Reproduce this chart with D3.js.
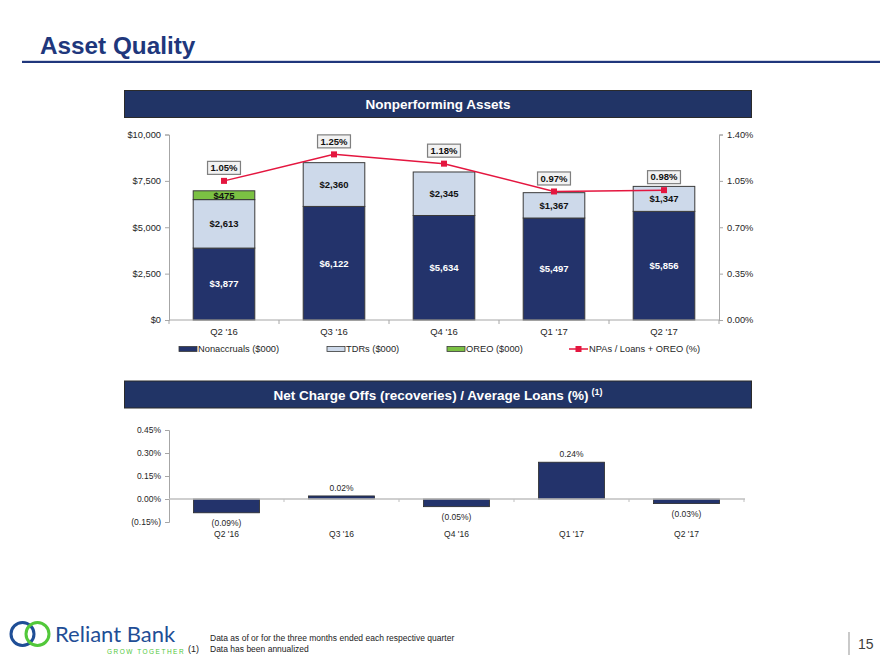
<!DOCTYPE html>
<html>
<head>
<meta charset="utf-8">
<script src="https://cdn.jsdelivr.net/npm/d3@7"></script>
<style>
  html, body { margin: 0; padding: 0; background: #fff; }
  svg { display: block; font-family: "Liberation Sans", Arial, sans-serif; }
</style>
</head>
<body>
<svg id="chart" width="880" height="660"></svg>
<script>
// ---------------- DATA ----------------
const categories = ["Q2 '16", "Q3 '16", "Q4 '16", "Q1 '17", "Q2 '17"];
const nonaccruals = [3877, 6122, 5634, 5497, 5856];
const tdrs = [2613, 2360, 2345, 1367, 1347];
const oreo = [475, 0, 0, 0, 0];
const npaRatio = [1.05, 1.25, 1.18, 0.97, 0.98];
const leftTicks = [0, 2500, 5000, 7500, 10000];
const rightTicks = [0, 0.35, 0.70, 1.05, 1.40];
const ncoRatio = [-0.09, 0.02, -0.05, 0.24, -0.03];
const ncoTicks = [-0.15, 0, 0.15, 0.30, 0.45];
const legendLabels = ["Nonaccruals ($000)", "TDRs ($000)", "OREO ($000)", "NPAs / Loans + OREO (%)"];

// ---------------- STYLE ----------------
const NAVY = "#23336b";
const TITLE_NAVY = "#20377c";
const LIGHT = "#cdd9ea";
const GREEN = "#7bc143";
const RED = "#e4163f";
const AXIS = "#a6a6a6";
const TXT = "#262626";

const svg = d3.select("#chart");

// Title
svg.append("text").attr("x", 40).attr("y", 53.5)
  .attr("font-size", 24.3).attr("font-weight", "bold").attr("fill", TITLE_NAVY)
  .text("Asset Quality");
svg.append("rect").attr("x", 22).attr("y", 60.8).attr("width", 858).attr("height", 2.2).attr("fill", TITLE_NAVY);

// Header boxes
function header(y, textParts) {
  svg.append("rect").attr("x", 124.5).attr("y", y).attr("width", 627).attr("height", 27)
    .attr("fill", "#213466").attr("stroke", "#2b2b2b").attr("stroke-width", 1);
  const t = svg.append("text").attr("x", 438).attr("y", y + 18.5).attr("text-anchor", "middle")
    .attr("fill", "#fff").attr("font-weight", "bold").attr("font-size", 13.5);
  t.append("tspan").text(textParts[0]);
  if (textParts[1]) {
    t.append("tspan").attr("font-size", 9).attr("dy", -5).attr("dx", 3).text(textParts[1]);
  }
}
header(90.5, ["Nonperforming Assets"]);
header(381, ["Net Charge Offs (recoveries) / Average Loans (%)", "(1)"]);

// ---------------- CHART 1 ----------------
const x1 = d3.scaleBand().domain(categories).range([169, 719]).paddingInner(0.44).paddingOuter(0.22);
const y1 = d3.scaleLinear().domain([0, 10000]).range([320, 134.5]);
const y1r = d3.scaleLinear().domain([0, 1.4]).range([320, 134.5]);

const stackData = categories.map((c, i) => ({ cat: c, non: nonaccruals[i], tdr: tdrs[i], oreo: oreo[i] }));
const series = d3.stack().keys(["non", "tdr", "oreo"])(stackData);
const fills = { non: NAVY, tdr: LIGHT, oreo: GREEN };

const g1 = svg.append("g");
series.forEach(s => {
  g1.selectAll(null).data(s.filter(d => d[1] - d[0] > 0)).enter().append("rect")
    .attr("x", d => x1(d.data.cat))
    .attr("y", d => y1(d[1]))
    .attr("width", x1.bandwidth())
    .attr("height", d => y1(d[0]) - y1(d[1]))
    .attr("fill", fills[s.key])
    .attr("stroke", "#3a3a3a").attr("stroke-width", 1);
});
series.forEach(s => {
  g1.selectAll(null).data(s.filter(d => d[1] - d[0] > 0)).enter().append("text")
    .attr("x", d => x1(d.data.cat) + x1.bandwidth() / 2)
    .attr("y", d => (y1(d[0]) + y1(d[1])) / 2)
    .attr("dy", "0.35em")
    .attr("text-anchor", "middle").attr("font-size", 9.5).attr("font-weight", "bold")
    .attr("fill", s.key === "non" ? "#fff" : "#111")
    .text(d => "$" + d3.format(",")(d[1] - d[0]));
});

// Axes chart 1
const axL = d3.axisLeft(y1).tickValues(leftTicks).tickSize(4).tickFormat(d => "$" + d3.format(",")(d));
const gL = svg.append("g").attr("transform", "translate(169,0)").call(axL);
const axR = d3.axisRight(y1r).tickValues(rightTicks).tickSize(4).tickFormat(d => d3.format(".2f")(d) + "%");
const gR = svg.append("g").attr("transform", "translate(719,0)").call(axR);
[gL, gR].forEach(g => {
  g.selectAll("path, line").attr("stroke", AXIS);
  g.selectAll("text").attr("font-size", 9.3).attr("fill", TXT).attr("font-family", "Liberation Sans, Arial, sans-serif");
});
gL.selectAll("text").attr("x", -8);
gR.selectAll("text").attr("x", 8);

// bottom axis chart 1
const gB = svg.append("g");
gB.append("line").attr("x1", 169).attr("x2", 719).attr("y1", 320).attr("y2", 320).attr("stroke", AXIS);
const bounds1 = categories.map(c => x1(c) - x1.step() * 0.22).concat([719]);
gB.selectAll(null).data(bounds1).enter().append("line")
  .attr("x1", d => d).attr("x2", d => d).attr("y1", 320).attr("y2", 324).attr("stroke", AXIS);
gB.selectAll(null).data(categories).enter().append("text")
  .attr("x", d => x1(d) + x1.bandwidth() / 2).attr("y", 334.5)
  .attr("text-anchor", "middle").attr("font-size", 9.5).attr("fill", TXT).text(d => d);

// Line
const line = d3.line().x((d, i) => x1(categories[i]) + x1.bandwidth() / 2).y(d => y1r(d));
svg.append("path").datum(npaRatio).attr("d", line).attr("fill", "none").attr("stroke", RED).attr("stroke-width", 1.5);
svg.selectAll(null).data(npaRatio).enter().append("rect")
  .attr("x", (d, i) => x1(categories[i]) + x1.bandwidth() / 2 - 3)
  .attr("y", d => y1r(d) - 3).attr("width", 6).attr("height", 6).attr("fill", RED);

// Percent boxes
const lblG = svg.append("g");
npaRatio.forEach((v, i) => {
  const cx = x1(categories[i]) + x1.bandwidth() / 2;
  const cy = y1r(v) - 13;
  const t = lblG.append("text").attr("x", cx).attr("y", cy).attr("dy", "0.35em")
    .attr("text-anchor", "middle").attr("font-size", 9.5).attr("font-weight", "bold").attr("fill", "#111")
    .text(d3.format(".2f")(v) + "%");
  const w = t.node().getComputedTextLength() + 6;
  lblG.insert("rect", "text").attr("x", cx - w / 2).attr("y", cy - 6.5).attr("width", w).attr("height", 13)
    .attr("fill", "#f2f2f2").attr("stroke", "#7f7f7f").attr("stroke-width", 1.2);
});

// Legend
const legY = 349;
const legX = [179, 327, 447, 569];
const lg = svg.append("g");
[NAVY, LIGHT, GREEN].forEach((c, i) => {
  lg.append("rect").attr("x", legX[i]).attr("y", legY - 2.5).attr("width", 18).attr("height", 5)
    .attr("fill", c).attr("stroke", "#3a3a3a").attr("stroke-width", 0.8);
});
lg.append("line").attr("x1", legX[3]).attr("x2", legX[3] + 19).attr("y1", legY).attr("y2", legY)
  .attr("stroke", RED).attr("stroke-width", 1.5);
lg.append("rect").attr("x", legX[3] + 6.5).attr("y", legY - 3).attr("width", 6).attr("height", 6).attr("fill", RED);
legendLabels.forEach((l, i) => {
  lg.append("text").attr("x", legX[i] + (i === 3 ? 20 : 19)).attr("y", legY).attr("dy", "0.35em")
    .attr("font-size", 9.3).attr("fill", TXT).text(l);
});

// ---------------- CHART 2 ----------------
const x2 = d3.scaleBand().domain(categories).range([169, 744]).paddingInner(0.426).paddingOuter(0.213);
const y2 = d3.scaleLinear().domain([-0.15, 0.45]).range([522, 430]);

const axL2 = d3.axisLeft(y2).tickValues(ncoTicks).tickSize(4)
  .tickFormat(d => d < 0 ? "(" + d3.format(".2f")(-d) + "%)" : d3.format(".2f")(d) + "%");
const gL2 = svg.append("g").attr("transform", "translate(169,0)").call(axL2);
gL2.selectAll("path, line").attr("stroke", AXIS);
gL2.selectAll("text").attr("font-size", 8.5).attr("fill", TXT).attr("x", -8)
  .attr("font-family", "Liberation Sans, Arial, sans-serif");

const g2 = svg.append("g");
g2.selectAll(null).data(ncoRatio).enter().append("rect")
  .attr("x", (d, i) => x2(categories[i]))
  .attr("y", d => y2(Math.max(0, d)))
  .attr("width", x2.bandwidth())
  .attr("height", d => Math.abs(y2(d) - y2(0)))
  .attr("fill", NAVY).attr("stroke", "#2a2a2a").attr("stroke-width", 0.8);

// zero line
g2.append("line").attr("x1", 169).attr("x2", 745).attr("y1", y2(0)).attr("y2", y2(0))
  .attr("stroke", "#bfbfbf").attr("stroke-width", 1.5);
const bounds2 = categories.map(c => x2(c) - x2.step() * 0.213).slice(1).concat([744]);
g2.selectAll(null).data(bounds2).enter().append("line")
  .attr("x1", d => d).attr("x2", d => d).attr("y1", y2(0)).attr("y2", y2(0) + 3).attr("stroke", "#bfbfbf");

g2.selectAll(null).data(ncoRatio).enter().append("text")
  .attr("x", (d, i) => x2(categories[i]) + x2.bandwidth() / 2)
  .attr("y", d => d >= 0 ? y2(d) - 5 : y2(d) + 13)
  .attr("text-anchor", "middle").attr("font-size", 8.5).attr("fill", TXT)
  .text(d => d < 0 ? "(" + d3.format(".2f")(-d) + "%)" : d3.format(".2f")(d) + "%");

g2.selectAll(null).data(categories).enter().append("text")
  .attr("x", d => x2(d) + x2.bandwidth() / 2).attr("y", 536.5)
  .attr("text-anchor", "middle").attr("font-size", 8.5).attr("fill", TXT).text(d => d);

// ---------------- FOOTER ----------------
const ft = svg.append("g");
ft.append("circle").attr("cx", 22.5).attr("cy", 634).attr("r", 11.5).attr("fill", "none").attr("stroke", "#1f4e96").attr("stroke-width", 3);
ft.append("circle").attr("cx", 37.5).attr("cy", 634).attr("r", 11.5).attr("fill", "none").attr("stroke", "#52c83a").attr("stroke-width", 3);
ft.append("text").attr("x", 55).attr("y", 642).attr("font-size", 22).attr("fill", "#1f4e96")
  .attr("font-family", "Lato, 'Open Sans', sans-serif").text("Reliant Bank");
ft.append("text").attr("x", 107).attr("y", 653.5).attr("font-size", 6.5).attr("fill", "#52c83a")
  .attr("letter-spacing", 1.5).text("GROW TOGETHER");
ft.append("text").attr("x", 188).attr("y", 652).attr("font-size", 9).attr("fill", "#222").text("(1)");
ft.append("text").attr("x", 210).attr("y", 640.5).attr("font-size", 8.5).attr("fill", "#222")
  .text("Data as of or for the three months ended each respective quarter");
ft.append("text").attr("x", 210).attr("y", 651.5).attr("font-size", 8.5).attr("fill", "#222")
  .text("Data has been annualized");
ft.append("line").attr("x1", 849).attr("x2", 849).attr("y1", 632).attr("y2", 655).attr("stroke", "#a6a6a6").attr("stroke-width", 1.2);
ft.append("text").attr("x", 858).attr("y", 648.5).attr("font-size", 14).attr("fill", "#404040").text("15");
</script>
</body>
</html>
